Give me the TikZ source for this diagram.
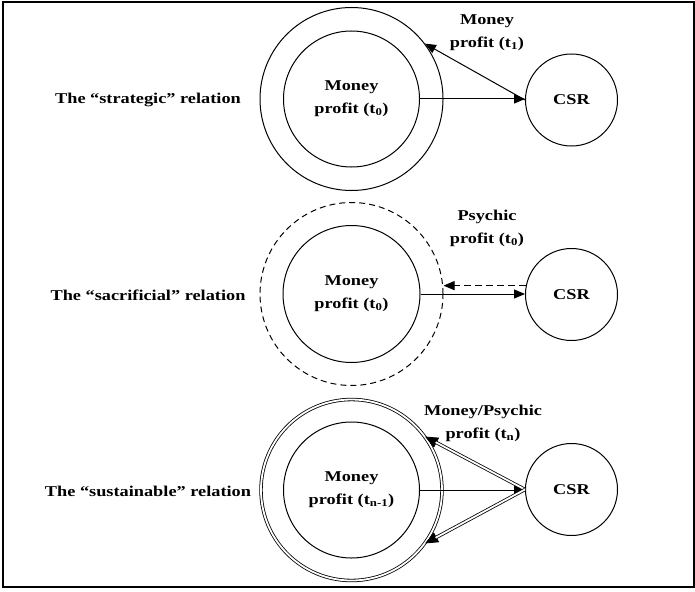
\documentclass[tikz,border=0pt]{standalone}
\usepackage{fontspec}
\setmainfont{Liberation Serif}[FakeStretch=1.22]
\usetikzlibrary{arrows.meta}
\begin{document}
\begin{tikzpicture}[x=1pt,y=-1pt,
  lab/.style={font=\fontsize{15}{23}\selectfont\bfseries, align=center, inner sep=0pt},
  ring/.style={circle, draw, line width=1pt, inner sep=0pt},
  arr/.style={-{Triangle[length=11pt,width=9pt]}, line width=1pt},
  dtip/.style={-{Triangle[length=13pt,width=11pt]}, line width=0.8pt},
  dline/.style={double, double distance=1.8pt, line width=0.8pt, shorten >=12pt},
]
\useasboundingbox (0,0) rectangle (695,591);
\node[draw, line width=1.5pt, minimum width=691pt, minimum height=584.5pt, anchor=north west, inner sep=0pt] (frame) at (2,1.5) {};

% row 1: strategic
\node[ring, minimum size=183pt] (o1) at (351.5,99) {};
\node[ring, lab, minimum size=136pt] (i1) at (351.5,99) {Money\\profit (t\textsubscript{0})};
\node[ring, lab, minimum size=92pt] (c1) at (571.5,100) {CSR};
\node[lab] (l1) at (148,100) {The “strategic” relation};
\node[lab] (a1) at (487,33) {Money\\profit (t\textsubscript{1})};
\draw[arr] (i1.east) -- (i1.east -| c1.west);
\draw[arr] (c1.west) -- (o1.37);

% row 2: sacrificial
\node[ring, dash pattern=on 6pt off 4pt, minimum size=183pt] (o2) at (351.5,294) {};
\node[ring, lab, minimum size=137pt] (i2) at (351.5,294) {Money\\profit (t\textsubscript{0})};
\node[ring, lab, minimum size=92pt] (c2) at (571.5,294.5) {CSR};
\node[lab] (l2) at (148,295) {The “sacrificial” relation};
\node[lab] (a2) at (487,228) {Psychic\\profit (t\textsubscript{0})};
\draw[arr] (i2.east) -- (i2.east -| c2.west);
\draw[arr, dash pattern=on 7pt off 4pt] (c2.169) -- (c2.169 -| o2.east);

% row 3: sustainable
\node[ring, double, double distance=1.8pt, line width=0.8pt, minimum size=181pt] (o3) at (351.5,490) {};
\node[ring, lab, minimum size=136pt] (i3) at (351.5,490) {Money\\profit (t\textsubscript{n-1})};
\node[ring, lab, minimum size=92pt] (c3) at (571.5,489.5) {CSR};
\node[lab] (l3) at (148,491) {The “sustainable” relation};
\node[lab] (a3) at (483,423) {Money/Psychic\\profit (t\textsubscript{n})};
\draw[arr] (i3.east) -- (i3.east -| c3.west);
\draw[dtip] (c3.west) -- (o3.36);
\draw[dline] (c3.west) -- (o3.36);
\draw[dtip] (c3.west) -- (o3.-36);
\draw[dline] (c3.west) -- (o3.-36);
\end{tikzpicture}
\end{document}
